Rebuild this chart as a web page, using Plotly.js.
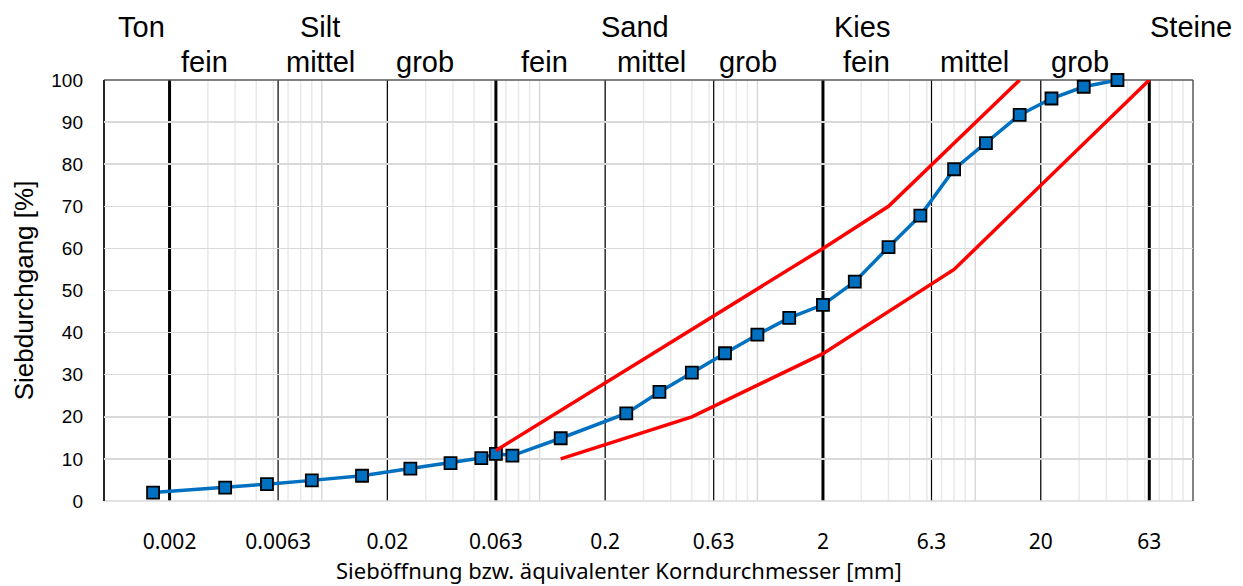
<!DOCTYPE html>
<html>
<head>
<meta charset="utf-8">
<script src="https://cdn.plot.ly/plotly-3.0.1.min.js"></script>
<style>html,body{margin:0;padding:0;background:#fff;}#chart{width:1243px;height:586px;}</style>
</head>
<body>
<div id="chart"></div>
<script>
// Sieve analysis (grain size distribution)
const sieveSizes = [0.00168, 0.0036, 0.0056, 0.009, 0.0153, 0.0255, 0.039, 0.054, 0.063, 0.075, 0.125, 0.25, 0.355, 0.5, 0.71, 1, 1.4, 2, 2.8, 4, 5.6, 8, 11.2, 16, 22.4, 31.5, 45];
const passing    = [2.0, 3.2, 4.0, 4.9, 6.0, 7.7, 9.0, 10.2, 11.2, 10.8, 14.9, 20.8, 25.9, 30.5, 35.1, 39.5, 43.5, 46.6, 52.1, 60.3, 67.8, 78.8, 85.0, 91.7, 95.6, 98.4, 100];

const upperX = [0.063, 2, 4, 16];
const upperY = [12, 60, 70, 100];
const lowerX = [0.125, 0.5, 2, 8, 63];
const lowerY = [10, 20, 35, 55, 100];

const tickValues = [0.002, 0.0063, 0.02, 0.063, 0.2, 0.63, 2, 6.3, 20, 63];
const tickLabels = ["0.002", "0.0063", "0.02", "0.063", "0.2", "0.63", "2", "6.3", "20", "63"];
const mainBounds = [0.002, 0.063, 2, 63];

const groupLabels = ["Ton", "Silt", "Sand", "Kies", "Steine"];
const subLabels = ["fein", "mittel", "grob", "fein", "mittel", "grob", "fein", "mittel", "grob"];

// layout positions (pixel centres) for the soil class labels
const groupPx = [141, 320, 635, 862, 1191];
const subPx = [204, 320, 425, 544, 651, 748, 866, 974, 1080];

const L = 104, R = 1193, T = 80, B = 501;
const pw = R - L, ph = B - T;

const shapes = [];
// log grid lines (decades and digits)
for (let e = -3; e <= 1; e++) {
  for (let k = 1; k <= 9; k++) {
    const v = k * Math.pow(10, e);
    if (v <= 0.001 || v >= 100) continue;
    shapes.push({type: 'line', xref: 'x', yref: 'paper', x0: v, x1: v, y0: 0, y1: 1,
      layer: 'below', line: {color: k === 1 ? '#d9d9d9' : '#e9e9e9', width: 1.5}});
  }
}
// class boundary lines
tickValues.forEach(v => {
  const main = mainBounds.includes(v);
  shapes.push({type: 'line', xref: 'x', yref: 'paper', x0: v, x1: v, y0: 0, y1: 1,
    layer: 'between', line: {color: '#000', width: main ? 3 : 1.2}});
});
// plot border
shapes.push({type: 'line', xref: 'paper', yref: 'paper', x0: 0, x1: 1, y0: 0, y1: 0, layer: 'between', line: {color: '#d9d9d9', width: 1.5}});
shapes.push({type: 'line', xref: 'paper', yref: 'paper', x0: 0, x1: 1, y0: 1, y1: 1, layer: 'between', line: {color: '#595959', width: 1.5}});
shapes.push({type: 'line', xref: 'paper', yref: 'paper', x0: 0, x1: 0, y0: 0, y1: 1, layer: 'between', line: {color: '#262626', width: 2}});
shapes.push({type: 'line', xref: 'paper', yref: 'paper', x0: 1, x1: 1, y0: 0, y1: 1, layer: 'between', line: {color: '#595959', width: 1.5}});

const annotations = [];
const labelFont = {family: 'Liberation Sans, Arial, sans-serif', size: 29, color: '#000'};
groupLabels.forEach((t, i) => annotations.push({
  text: t, xref: 'paper', yref: 'paper', x: (groupPx[i] - L) / pw, y: (B - 27) / ph,
  xanchor: 'center', yanchor: 'middle', showarrow: false, font: labelFont
}));
subLabels.forEach((t, i) => annotations.push({
  text: t, xref: 'paper', yref: 'paper', x: (subPx[i] - L) / pw, y: (B - 62) / ph,
  xanchor: 'center', yanchor: 'middle', showarrow: false, font: labelFont
}));
annotations.push({
  text: 'Sieböffnung bzw. äquivalenter Korndurchmesser [mm]', xref: 'paper', yref: 'paper',
  x: (619 - L) / pw, y: (B - 586) / ph, xanchor: 'center', yanchor: 'bottom', showarrow: false,
  borderpad: 0,
  font: {family: 'Noto Sans, sans-serif', size: 22, color: '#000'}
});

const traces = [
  {x: sieveSizes, y: passing, type: 'scatter', mode: 'lines+markers', name: 'Sieblinie',
   cliponaxis: false,
   line: {color: '#0070C0', width: 3.5},
   marker: {symbol: 'square', size: 12, color: '#0070C0', line: {color: '#000', width: 1.8}}},
  {x: upperX, y: upperY, type: 'scatter', mode: 'lines', name: 'Obere Grenze',
   line: {color: '#FF0000', width: 3.5}},
  {x: lowerX, y: lowerY, type: 'scatter', mode: 'lines', name: 'Untere Grenze',
   line: {color: '#FF0000', width: 3.5}}
];

const layout = {
  width: 1243, height: 586,
  margin: {l: L, r: 1243 - R, t: T, b: 586 - B, pad: 0},
  paper_bgcolor: '#fff', plot_bgcolor: '#fff',
  showlegend: false,
  xaxis: {
    type: 'log', range: [-3, 2], autorange: false,
    tickmode: 'array', tickvals: tickValues, ticktext: tickLabels,
    showgrid: false, zeroline: false, showline: false, ticks: '',
    ticklabelstandoff: 26,
    tickfont: {family: 'Noto Sans, sans-serif', size: 21, color: '#000'}
  },
  yaxis: {
    range: [0, 100], autorange: false, dtick: 10, tick0: 0,
    showgrid: true, gridcolor: '#d9d9d9', gridwidth: 1.5,
    zeroline: false, showline: false, ticks: '',
    ticklabelstandoff: 20,
    tickfont: {family: 'Liberation Sans, Arial, sans-serif', size: 19, color: '#000'},
    title: {text: 'Siebdurchgang [%]', standoff: 10,
      font: {family: 'Liberation Sans, Arial, sans-serif', size: 26, color: '#000'}}
  },
  shapes: shapes,
  annotations: annotations
};

Plotly.newPlot('chart', traces, layout, {displayModeBar: false, staticPlot: true});
</script>
</body>
</html>
